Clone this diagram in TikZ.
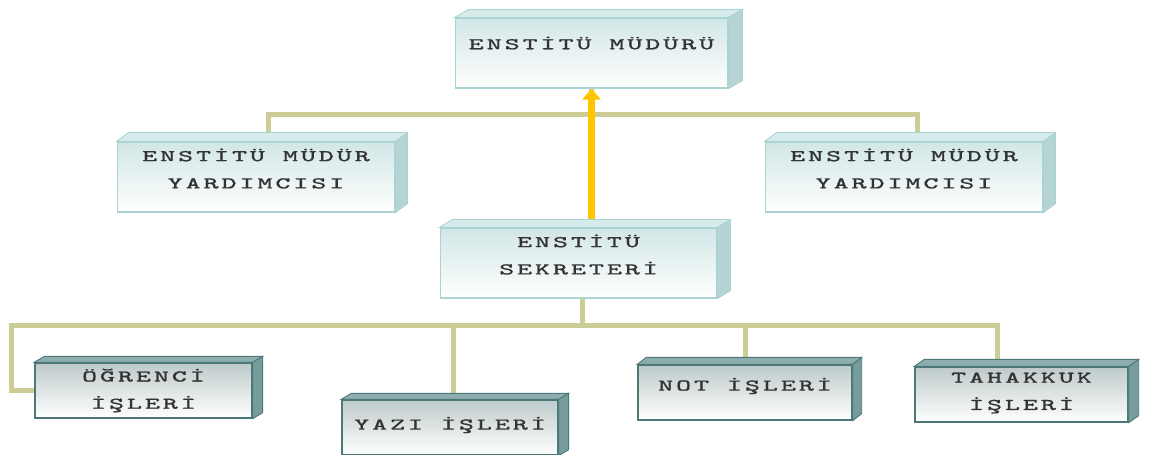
\documentclass[tikz,border=0pt]{standalone}
\usepackage{fontspec}
\usepackage{tikz}
\usetikzlibrary{arrows.meta,backgrounds}
\newfontfamily\boxfont[FakeStretch=1.75, FakeBold=0.9, LetterSpace=18]{Latin Modern Mono}

\definecolor{linkkhaki}{RGB}{204,204,150}
\definecolor{arrowgold}{RGB}{255,198,0}
\definecolor{paletop}{RGB}{210,230,230}
\definecolor{paleedge}{RGB}{170,212,212}
\definecolor{paleside}{RGB}{182,212,212}
\definecolor{palecap}{RGB}{216,235,235}
\definecolor{tealtop}{RGB}{190,202,202}
\definecolor{tealedge}{RGB}{76,120,120}
\definecolor{tealside}{RGB}{118,156,156}
\definecolor{tealcap}{RGB}{140,174,174}

\tikzset{
  palebox/.style={draw=paleedge, line width=0.6pt, top color=paletop, bottom color=white, minimum height=1.4cm, inner sep=0pt},
  tealbox/.style={draw=tealedge, line width=0.8pt, top color=tealtop, bottom color=white, minimum height=1.1cm, inner sep=0pt},
  boxtext/.style={align=center, inner sep=0pt, text=black!80, font=\boxfont\fontsize{9.3}{15.5}\selectfont},
  link/.style={draw=linkkhaki, line width=0.1cm},
  goldarrow/.style={draw=arrowgold, line width=0.15cm, -{Triangle[width=0.36cm,length=0.22cm]}}
}

% node, depth shift, cap colour, side colour, edge colour
\newcommand\slab[5]{%
  \filldraw[fill=#3, draw=#5, line width=0.5pt] (#1.north west) -- ++(#2) -- ([shift={(#2)}]#1.north east) -- (#1.north east) -- cycle;
  \filldraw[fill=#4, draw=#5, line width=0.5pt] (#1.north east) -- ++(#2) -- ([shift={(#2)}]#1.south east) -- (#1.south east) -- cycle;
}

\begin{document}
\begin{tikzpicture}[x=0.02cm, y=-0.02cm]
\useasboundingbox (0,0) rectangle (1150,454);

% upper boxes
\node[palebox, minimum width=5.46cm] (0) at (591.5,53) {};
\node[palebox, minimum width=5.56cm] (1) at (256,177) {};
\node[palebox, minimum width=5.56cm] (2) at (904,177) {};
\node[palebox, minimum width=5.54cm] (3) at (578.5,263) {};
\slab{0}{14,-8}{palecap}{paleside}{paleedge}
\slab{1}{12,-9}{palecap}{paleside}{paleedge}
\slab{2}{12,-9}{palecap}{paleside}{paleedge}
\slab{3}{13,-8}{palecap}{paleside}{paleedge}

% lower boxes
\node[tealbox, minimum width=4.34cm] (4) at (143.5,390.5) {};
\node[tealbox, minimum width=4.32cm] (5) at (450,427.5) {};
\node[tealbox, minimum width=4.28cm] (6) at (745,392.5) {};
\node[tealbox, minimum width=4.26cm] (7) at (1021.5,394.5) {};
\slab{4}{10,-6}{tealcap}{tealside}{tealedge}
\slab{5}{10,-6}{tealcap}{tealside}{tealedge}
\slab{6}{9,-7}{tealcap}{tealside}{tealedge}
\slab{7}{10,-7}{tealcap}{tealside}{tealedge}

% texts
\node[boxtext] (t0) at ([yshift=0.2cm]0.center) {ENSTİTÜ MÜDÜRÜ};
\node[boxtext] (t1) at ([yshift=0.17cm]1.center) {ENSTİTÜ MÜDÜR\\YARDIMCISI};
\node[boxtext] (t2) at ([yshift=0.17cm]2.center) {ENSTİTÜ MÜDÜR\\YARDIMCISI};
\node[boxtext] (t3) at ([yshift=0.17cm]3.center) {ENSTİTÜ\\SEKRETERİ};
\node[boxtext] (t4) at (4.center) {ÖĞRENCİ\\İŞLERİ};
\node[boxtext] (t5) at ([yshift=0.05cm]5.center) {YAZI İŞLERİ};
\node[boxtext] (t6) at ([yshift=0.13cm]6.center) {NOT İŞLERİ};
\node[boxtext] (t7) at ([yshift=0.03cm]7.center) {TAHAKKUK\\İŞLERİ};

\begin{pgfonlayer}{background}
\draw[link] ([shift={(12,0)}]1.north) -- ++(0,-27) -| ([shift={(13,0)}]2.north);
\draw[link] (0.south) -- ++(0,27);
\draw[link] ([shift={(3.5,0)}]3.south) -- ++(0,27) coordinate (hub);
\draw[link] (4.west) -- ++(-23,0) |- (hub) -| ([shift={(-24.5,0)}]7.north);
\draw[link] ([shift={(3,0)}]5.north) |- (hub);
\draw[link] (6.north) |- (hub);
\draw[goldarrow] (3.north -| 0.south) -- (0.south);
\end{pgfonlayer}
\end{tikzpicture}
\end{document}
